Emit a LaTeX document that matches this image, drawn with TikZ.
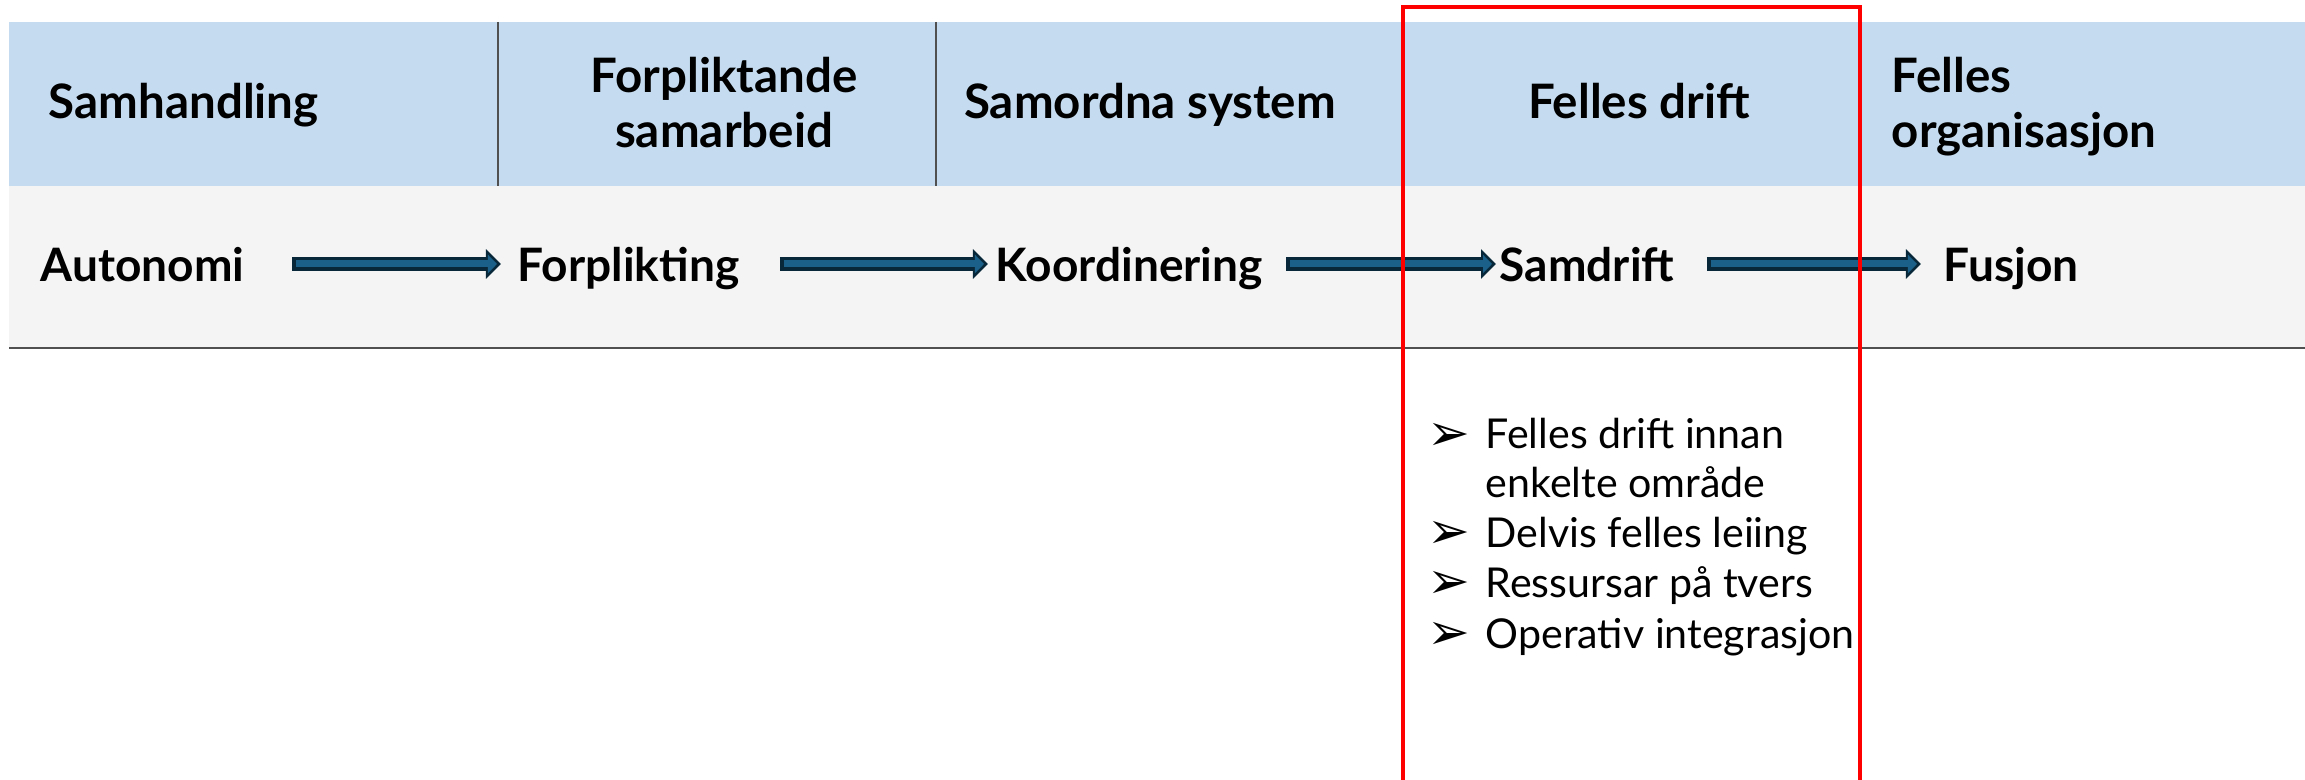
\documentclass[tikz,border=0pt]{standalone}
\usepackage{fontspec}
\setmainfont{Lato}
\newfontfamily\dingfont{DejaVu Sans}
\usepackage{xcolor}
\usetikzlibrary{arrows.meta}
\definecolor{headblue}{RGB}{197,220,240}
\definecolor{rowgrey}{RGB}{244,244,244}
\definecolor{rulegrey}{RGB}{80,80,80}
\definecolor{arrowedge}{RGB}{8,40,58}
\definecolor{arrowfill}{RGB}{26,96,136}
\tikzstyle{head} = [font=\fontsize{13.5}{15.4}\selectfont\bfseries, inner sep=0pt]
\tikzstyle{stage} = [font=\fontsize{13.1}{15.4}\selectfont\bfseries, inner sep=0pt,
    text height=0.46cm, text depth=0.1cm, anchor=base west]
\tikzstyle{list} = [font=\fontsize{11.7}{14.3}\selectfont, inner sep=0pt, align=left]
\tikzstyle{divider} = [draw=rulegrey, line width=0.4pt]
\tikzset{flow/.style 2 args={draw=arrowedge, line width=0.14cm, shorten <=#1, shorten >=#2,
    -{Triangle[length=0.15cm, width=0.29cm]},
    postaction={draw=arrowfill, line width=0.07cm, shorten <=#1+0.04cm, shorten >=#2+0.04cm,
    -{Triangle[length=0.09cm, width=0.18cm]}}}}
\newcommand{\pil}{\makebox[0.58cm][l]{\raisebox{-0.3pt}{\dingfont\fontsize{14.5}{14}\selectfont ➢}}}

\begin{document}
\begin{tikzpicture}[x=0.01cm, y=-0.01cm]
  \useasboundingbox (0,0) rectangle (2305,780);
  % bands
  \fill[headblue] (9,22) rectangle (2305,186);
  \fill[rowgrey] (9,186) rectangle (2305,348);
  \draw[rulegrey, line width=0.6pt] (9,348) -- (2305,348);
  \draw[divider] (498,22) -- (498,186);
  \draw[divider] (936,22) -- (936,186);
  % headers
  \node[head, anchor=base west] (samh) at (48,119) {Samhandling};
  \node[head, anchor=north, align=center] (forpsam) at (724,57) {Forpliktande\\samarbeid};
  \node[head, anchor=base] (samord) at (1150,119) {Samordna system};
  \node[head, anchor=base] (fdrift) at (1639,119) {Felles drift};
  \node[head, anchor=north west, align=left] (forg) at (1891,57) {Felles\\organisasjon};
  % stages
  \node[stage] (auto) at (40,282) {Autonomi};
  \node[stage] (forp) at (517,282) {Forplikting};
  \node[stage] (koord) at (995,282) {Koordinering};
  \node[stage] (samd) at (1499,282) {Samdrift};
  \node[stage] (fusj) at (1943,282) {Fusjon};
  % edges
  \path[flow={0.47cm}{0.16cm}] (auto) -- (forp);
  \path[flow={0.40cm}{0.07cm}] (forp) -- (koord);
  \path[flow={0.23cm}{0.03cm}] (koord) -- (samd);
  \path[flow={0.32cm}{0.22cm}] (samd) -- (fusj);
  % list
  \node[list, anchor=north west] (tiltak) at (1427,418)
    {\pil Felles drift innan\\[-0.02cm]\hspace*{0.58cm}enkelte område\\\pil Delvis felles leiing\\
     \pil Ressursar på tvers\\\pil Operativ integrasjon};
  % frame
  \draw[red, line width=0.04cm] (1403,800) -- (1403,7) -- (1860,7) -- (1860,800);
\end{tikzpicture}
\end{document}
